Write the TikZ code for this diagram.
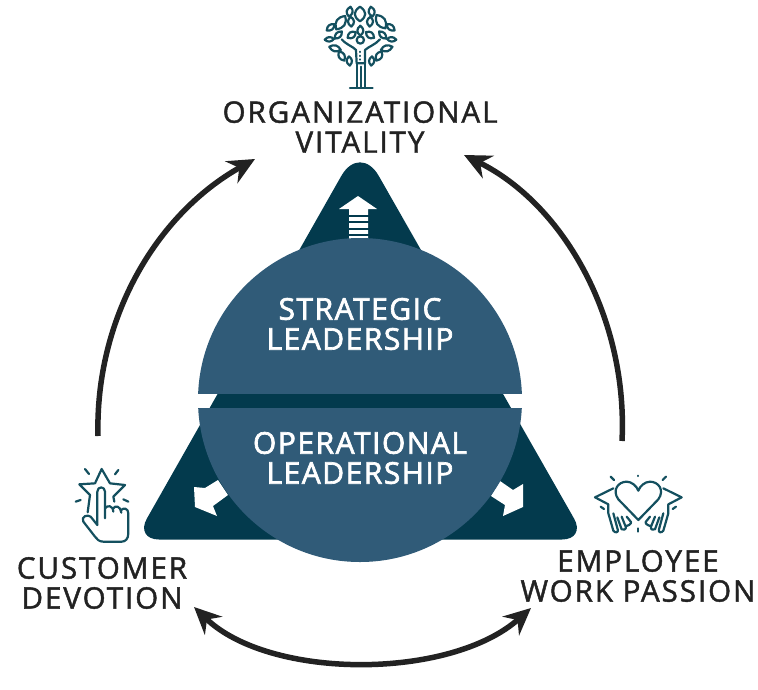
\documentclass[tikz,border=0pt]{standalone}
\usepackage{fontspec}
\usetikzlibrary{arrows.meta}
\newfontfamily\lab[LetterSpace=6.5,FakeBold=1.5]{Open Sans}
\newfontfamily\labw[LetterSpace=5,FakeBold=2.2]{Open Sans}
\definecolor{darktri}{HTML}{033A4D}
\definecolor{circ}{HTML}{305B78}
\definecolor{icon}{HTML}{14505F}
\definecolor{ink}{HTML}{222222}
\tikzset{
 cyc/.style={draw=ink,line width=5.5pt,-{Stealth[length=27pt,width=25pt,inset=9pt]}},
 cycboth/.style={draw=ink,line width=5.5pt,{Stealth[length=27pt,width=25pt,inset=9pt]}-{Stealth[length=27pt,width=25pt,inset=9pt]}},
 blk/.style={align=center,text=ink,font=\lab\fontsize{29.6}{30}\selectfont,inner sep=0pt},
 wht/.style={align=center,text=white,font=\labw\fontsize{30}{30}\selectfont,inner sep=0pt},
 ic/.style={draw=icon,line width=2.2pt,line cap=round,line join=round,fill=none},
}
\newcommand\lf[5]{\draw[ic,shift={(#1,#2)},rotate=#3] (-#4,0) .. controls (-#4/3,#5*1.5) and (#4/3,#5*1.5) .. (#4,0) .. controls (#4/3,-#5*1.5) and (-#4/3,-#5*1.5) .. cycle;}
\newcommand\handp{%
 \draw[ic] (-75,85) -- (-130,112) -- (-90,133) -- (-90,160) -- (-75,212) .. controls (-70,220) and (-58,218) .. (-62,208) -- (-75,160)
   (-63,172) -- (-50,208) .. controls (-45,212) and (-35,208) .. (-38,200) -- (-50,170)
   (-38,198) .. controls (-32,198) and (-20,192) .. (-22,186) -- (-35,170);
 \draw[ic] (-83,50) -- (-73,60) (-113,140) -- (-103,147);
}
\begin{document}
\begin{tikzpicture}[x=1pt,y=-1pt]
\useasboundingbox (0,0) rectangle (758,689);
% triangle
\fill[darktri] (360,539.5) [rounded corners=24pt] -- (586,539.5) [rounded corners=38pt] -- (360,143) [rounded corners=24pt] -- (135,539.5) [sharp corners] -- cycle;
% up arrow
\fill[white] (358,196) -- (377,209) -- (368,209) -- (368,239) -- (349,239) -- (349,209) -- (339,209) -- cycle;
\foreach \yy in {216,222,229,235} \draw[darktri,line width=1.6pt] (347,\yy) -- (370,\yy);
% side arrows
\fill[white] (218,480) -- (205,488) -- (194,487) -- (195,507) -- (217,516) -- (213,506) -- (228,495) -- cycle;
\fill[white] (500,481) -- (513,490) -- (523,484) -- (523,507) -- (503,516) -- (505,505) -- (491,496) -- cycle;
% circle halves
\begin{scope}
 \clip (150,200) rectangle (570,393);
 \fill[circ] (360,400) circle[radius=162];
\end{scope}
\begin{scope}
 \clip (150,408) rectangle (570,600);
 \fill[circ] (360,400) circle[radius=162];
\end{scope}
% labels
\node[blk] (ov) at (360,127) {ORGANIZATIONAL\\VITALITY};
\node[blk] (cd) at (102,583) {CUSTOMER\\DEVOTION};
\node[blk] (ew) at (638,576) {EMPLOYEE\\WORK PASSION};
\node[wht] (sl) at (360,324) {STRATEGIC\\LEADERSHIP};
\node[wht] (ol) at (360,458) {OPERATIONAL\\LEADERSHIP};
% connectors
\coordinate (a1) at (98,436); \coordinate (a2) at (255,159);
\coordinate (b1) at (622,441); \coordinate (b2) at (464,155);
\coordinate (c1) at (194,607); \coordinate (c2) at (531,608);
\draw[cyc] (a1) .. controls (95,320) and (155,215) .. (a2);
\draw[cyc] (b1) .. controls (628,320) and (565,205) .. (b2);
\draw[cycboth] (c1) .. controls (270,680) and (450,680) .. (c2);
% tree
\begin{scope}[shift={(300,0)},x=0.3333pt,y=-0.3333pt]
 \lf{180}{42}{90}{22}{14}
 \lf{149}{35}{80}{15}{8} \lf{153}{65}{95}{15}{8}
 \lf{215}{35}{100}{15}{8} \lf{210}{65}{85}{15}{8}
 \lf{122}{68}{56}{24}{12} \lf{243}{65}{124}{24}{12}
 \lf{92}{82}{38}{15}{7} \lf{115}{105}{45}{15}{7}
 \lf{272}{82}{-38}{15}{7} \lf{248}{105}{-45}{15}{7}
 \lf{88}{118}{5}{14}{6} \lf{275}{118}{-5}{14}{6}
 \lf{105}{145}{-15}{18}{8} \lf{260}{145}{15}{18}{8}
 \lf{125}{168}{-60}{16}{8} \lf{237}{168}{60}{16}{8}
 \lf{148}{183}{-85}{14}{7} \lf{215}{183}{85}{14}{7}
 \lf{155}{105}{35}{15}{8} \lf{210}{105}{-35}{15}{8} \lf{181}{92}{90}{15}{8}
 \draw[ic] (181,120) circle[radius=11];
 \draw[ic] (125,118) .. controls (140,135) and (160,140) .. (168,150) -- (170,190) -- (195,190) -- (195,150) .. controls (205,140) and (225,135) .. (240,118);
 \draw[ic] (172,190) -- (172,262) (195,190) -- (195,262) (183,200) -- (183,262) (150,263) -- (218,263);
 \draw[ic] (181,155) -- (181,156) (181,167) -- (181,168) (181,178) -- (181,179);
\end{scope}
% star hand
\begin{scope}[shift={(60,450)},x=0.3333pt,y=-0.3333pt]
 \draw[ic] (83,187) -- (90,135) -- (58,103) -- (105,100) -- (125,57) -- (150,100) -- (195,105) -- (160,140) -- (163,155);
 \draw[ic] (112,225) -- (112,125) .. controls (112,108) and (135,108) .. (135,125) -- (135,205);
 \draw[ic] (135,175) .. controls (142,165) and (158,165) .. (160,185) (160,175) .. controls (165,165) and (182,168) .. (184,188) (184,180) .. controls (190,172) and (205,175) .. (205,190) -- (205,250) .. controls (205,268) and (195,275) .. (185,275) -- (130,275) .. controls (118,275) and (110,268) .. (105,260) -- (70,215) .. controls (62,200) and (82,192) .. (92,200) -- (112,225);
 \draw[ic] (75,57) -- (87,72) (175,60) -- (165,73) (47,155) -- (62,150) (190,148) -- (205,155);
\end{scope}
% heart hands
\begin{scope}[shift={(580,460)},x=0.3333pt,y=-0.3333pt]
 \draw[ic] (175,180) -- (115,118) .. controls (95,90) and (115,65) .. (140,65) .. controls (155,65) and (170,78) .. (175,92) .. controls (180,78) and (195,65) .. (210,65) .. controls (235,65) and (255,90) .. (235,118) -- cycle;
 \draw[ic] (175,47) -- (175,48) (175,205) -- (175,215);
\end{scope}
\begin{scope}[shift={(638.33,460)},x=0.3333pt,y=-0.3333pt]
 \handp
\end{scope}
\begin{scope}[shift={(638.33,460)},x=-0.3333pt,y=-0.3333pt]
 \handp
\end{scope}
\end{tikzpicture}
\end{document}
